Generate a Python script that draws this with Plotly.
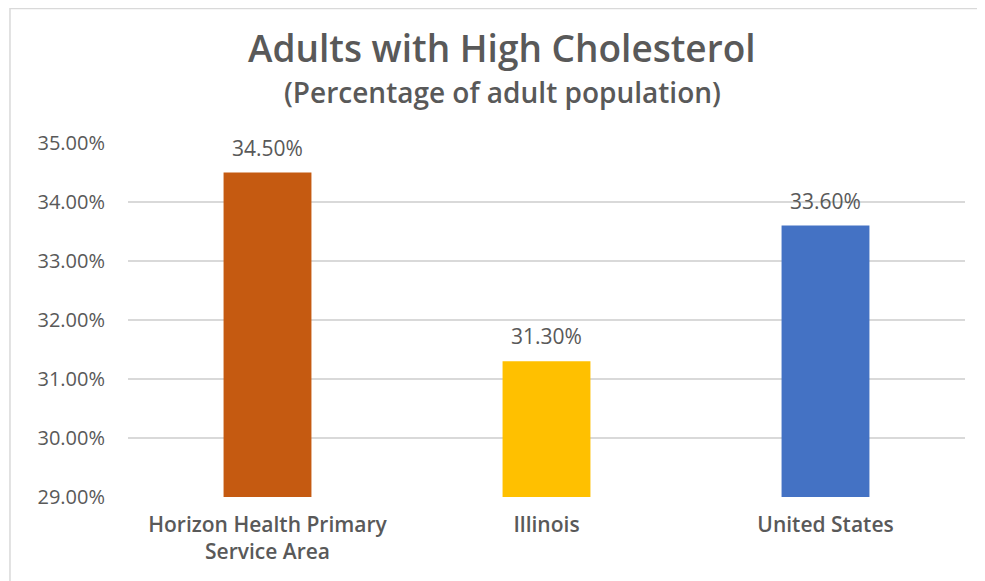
import plotly.graph_objects as go

# Chart data
categories = ["Horizon Health Primary<br>Service Area", "Illinois", "United States"]
values = [0.345, 0.313, 0.336]
bar_colors = ["#C55A11", "#FFC000", "#4472C4"]
tick_vals = [0.29, 0.30, 0.31, 0.32, 0.33, 0.34, 0.35]

title_text = "Adults with High Cholesterol"
subtitle_text = "(Percentage of adult population)"

font_name = "Open Sans"
grey = "#595959"

fig = go.Figure(go.Bar(
    x=categories,
    y=values,
    marker=dict(color=bar_colors, line=dict(width=0)),
    width=0.315,
    hovertemplate="%{y:.2%}<extra></extra>",
))

# value labels above the bars
labels = [
    dict(text=f"{v:.2%}", x=c, y=v, xref="x", yref="y",
         xanchor="center", yanchor="bottom", yshift=9, showarrow=False,
         font=dict(family=font_name, size=21, color=grey))
    for c, v in zip(categories, values)
]

fig.update_layout(
    width=985, height=581,
    margin=dict(l=120, r=28, t=135, b=92),
    paper_bgcolor="white", plot_bgcolor="white",
    font=dict(family=font_name, color=grey),
    showlegend=False,
    xaxis=dict(
        showgrid=False, showline=False, zeroline=False, ticks="",
        tickfont=dict(family=font_name, size=21, color=grey, weight=600),
        ticklabelstandoff=13,
    ),
    yaxis=dict(
        range=[0.29, 0.35], tickvals=tick_vals, tickformat=".2%",
        showgrid=True, gridcolor="#D9D9D9", gridwidth=1.5,
        zeroline=False, showline=False, ticks="",
        tickfont=dict(family=font_name, size=20, color=grey),
        ticklabelstandoff=22,
    ),
    shapes=[dict(
        type="rect", xref="paper", yref="paper",
        x0=-0.141, x1=1.1, y0=-0.3, y1=1.38,
        line=dict(color="#D9D9D9", width=1.5), layer="below",
    )],
    annotations=labels + [
        dict(text=title_text, xref="paper", yref="paper", x=0.447, y=1.269,
             xanchor="center", yanchor="middle", showarrow=False,
             font=dict(family=font_name, size=37, color=grey, weight=600)),
        dict(text=subtitle_text, xref="paper", yref="paper", x=0.447, y=1.144,
             xanchor="center", yanchor="middle", showarrow=False,
             font=dict(family=font_name, size=28, color=grey, weight=600)),
    ],
)

fig.write_html("out.html")
